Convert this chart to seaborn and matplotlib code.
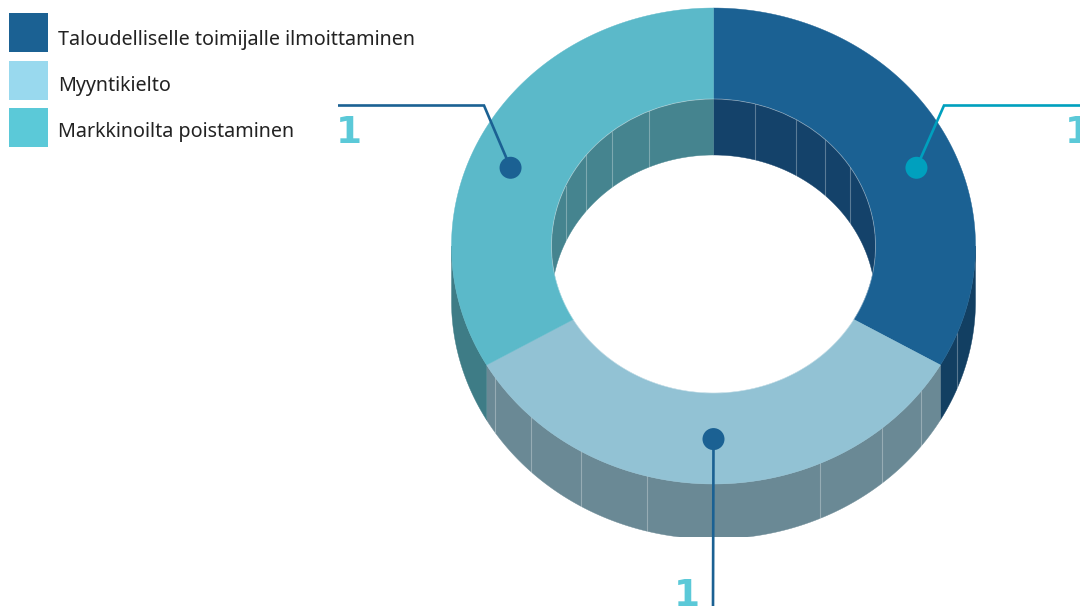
import numpy as np
import pandas as pd
import matplotlib
matplotlib.use("Agg")
import matplotlib.pyplot as plt
from matplotlib.patches import Ellipse, Polygon, Rectangle
import seaborn as sns

categories = ["Taloudelliselle toimijalle ilmoittaminen", "Myyntikielto", "Markkinoilta poistaminen"]
values = [1, 1, 1]
legend_colors = ["#1B6193", "#99D9EE", "#5BC9D8"]
top_colors = ["#1B6193", "#92C2D4", "#5BB9C9"]
outer_wall_colors = ["#123F62", "#6A8995", "#3E7C86"]
inner_wall_colors = ["#14426A", "#6A8995", "#45848F"]
dot_colors = ["#00A0BE", "#1B6193", "#1B6193"]
line_colors = ["#00A0BE", "#1B6193", "#1B6193"]

outer_seams = [111.4, 127.5, 140, 156, 194.8, 210.5, 224, 236.7]
inner_seams = [14.7, 30.8, 43.7, 57.7, 294, 308, 321, 336.7]

sns.set_theme(style="white")
plt.rcParams["font.family"] = ["Noto Sans", "DejaVu Sans"]

W, H = 1080, 606
CX, CY = 713.5, 246
RXO, RYO, RXI, RYI = 262, 238, 162, 147
DEPTH = 55
CLIP_Y = 537

fig = plt.figure(figsize=(W / 100, H / 100), dpi=100, facecolor="white")
ax = fig.add_axes([0, 0, 1, 1])
ax.set_xlim(0, W)
ax.set_ylim(H, 0)
ax.axis("off")


def arc(rx, ry, a, b, dy=0, n=120):
    t = np.radians(np.linspace(a, b, n))
    return np.column_stack([CX + rx * np.sin(t), CY - ry * np.cos(t) + dy])


total = sum(values)
edges = np.concatenate([[0], np.cumsum(values)]) / total * 360

bottom_clip = Rectangle((0, 0), W, CLIP_Y, transform=ax.transData)
hole = Ellipse((CX, CY), 2 * RXI, 2 * RYI, transform=ax.transData)

for i in range(len(values)):
    a, b = edges[i], edges[i + 1]
    # outer wall: only its front half shows
    lo, hi = max(a, 90), min(b, 270)
    if hi > lo:
        pts = np.vstack([arc(RXO, RYO, lo, hi), arc(RXO, RYO, hi, lo, DEPTH)])
        p = Polygon(pts, closed=True, fc=outer_wall_colors[i], ec=outer_wall_colors[i], lw=0.3, zorder=1)
        ax.add_patch(p)
        p.set_clip_path(bottom_clip)

for s in outer_seams:
    pt = arc(RXO, RYO, s, s, n=1)[0]
    ln, = ax.plot([pt[0], pt[0]], [pt[1], pt[1] + DEPTH], color="white", alpha=0.3, lw=0.8, zorder=1.5)
    ln.set_clip_path(bottom_clip)

for i in range(len(values)):
    a, b = edges[i], edges[i + 1]
    pts = np.vstack([arc(RXO, RYO, a, b), arc(RXI, RYI, b, a)])
    ax.add_patch(Polygon(pts, closed=True, fc=top_colors[i], ec=top_colors[i], lw=0.3, zorder=2))

for i in range(len(values)):
    a, b = edges[i], edges[i + 1]
    for lo, hi in ((max(a, 0), min(b, 90)), (max(a, 270), min(b, 360))):
        if hi > lo:
            pts = np.vstack([arc(RXI, RYI, lo, hi), arc(RXI, RYI, hi, lo, DEPTH + 1)])
            p = Polygon(pts, closed=True, fc=inner_wall_colors[i], ec=inner_wall_colors[i], lw=0.3, zorder=3)
            ax.add_patch(p)
            p.set_clip_path(hole)

for s in inner_seams:
    pt = arc(RXI, RYI, s, s, n=1)[0]
    ln, = ax.plot([pt[0], pt[0]], [pt[1], pt[1] + DEPTH + 1], color="white", alpha=0.3, lw=0.8, zorder=3.5)
    ln.set_clip_path(hole)
ax.add_patch(Ellipse((CX, CY), 2 * RXI, 2 * RYI, fc="none", ec="white", alpha=0.35, lw=0.6, zorder=3.6))

# leaders: dot on each slice, elbow and run towards the chart edge
dot_angles = [67, 180, 293]
dot_scale = [1.04, 1.003, 1.04]
dots = []
for ang, k in zip(dot_angles, dot_scale):
    dots.append(arc(k * (RXO + RXI) / 2, k * (RYO + RYI) / 2, ang, ang, n=1)[0])
dots = np.array(dots)

ends = [[(944, 105.5), (1080, 105.5)], [(713, H)], [(484, 105.5), (338, 105.5)]]
for d, route, c in zip(dots, ends, line_colors):
    xs = [d[0]] + [q[0] for q in route]
    ys = [d[1]] + [q[1] for q in route]
    ax.plot(xs, ys, color=c, lw=1.9, zorder=4, solid_joinstyle="miter", solid_capstyle="butt")

dot_df = pd.DataFrame({"x": dots[:, 0], "y": dots[:, 1], "cat": categories})
sns.scatterplot(data=dot_df, x="x", y="y", hue="cat", palette=dict(zip(categories, dot_colors)),
                s=251, linewidth=0, legend=False, ax=ax, zorder=5)
ax.set_xlim(0, W)
ax.set_ylim(H, 0)
ax.axis("off")

label_pos = [(1065, 143), (674, 606), (336, 143)]
for v, (x, y) in zip(values, label_pos):
    ax.text(x, y, str(v), color="#5BC9D8", fontsize=27, fontweight="bold", family="DejaVu Sans",
            ha="left", va="baseline", zorder=6, clip_on=True)

# legend
swatch_y = [13, 61, 108]
text_y = [40, 86, 132]
for y, ty, c, name in zip(swatch_y, text_y, legend_colors, categories):
    ax.add_patch(Rectangle((9, y), 39, 39, fc=c, ec="none", zorder=6))
    ax.text(58, ty, name, color="#222222", fontsize=14.2, fontweight="medium", va="center", ha="left", zorder=6)

fig.savefig("out.png", dpi=100, facecolor="white")
